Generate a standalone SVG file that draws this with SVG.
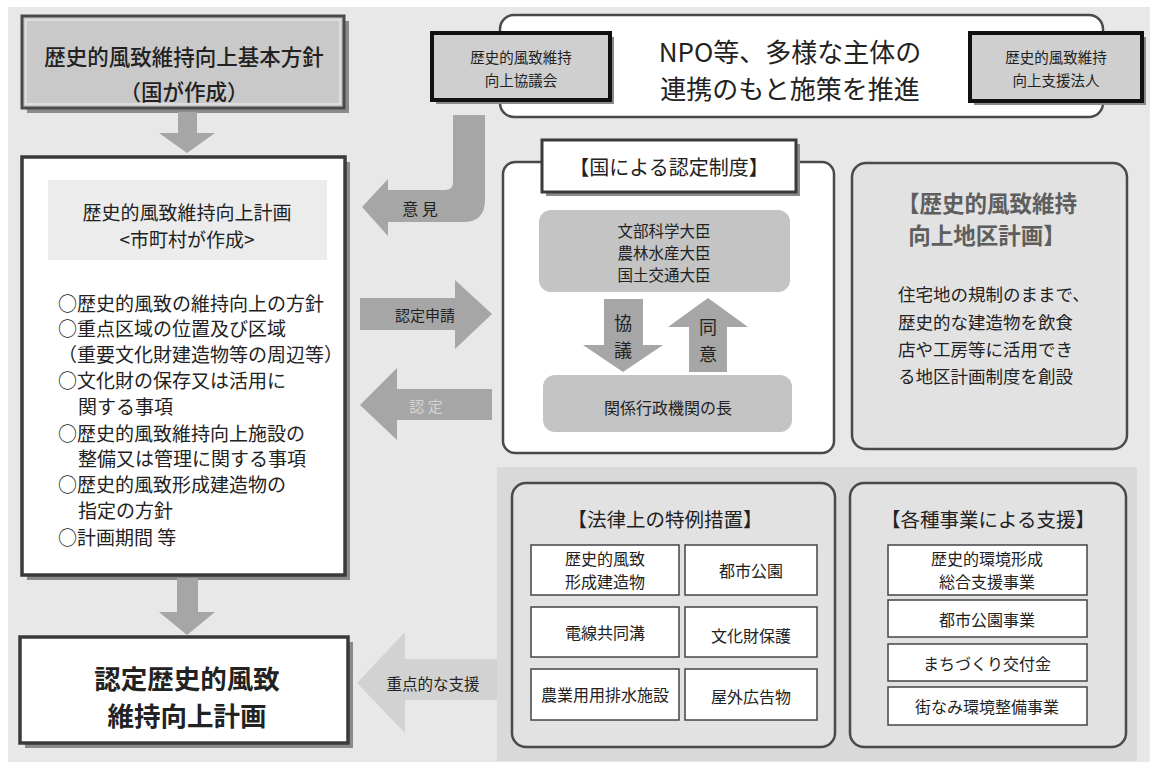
<svg xmlns="http://www.w3.org/2000/svg" width="1163" height="767" viewBox="0 0 1163 767">
<style>
text{font-family:"Noto Sans CJK JP","Noto Sans CJK SC",sans-serif;fill:#222;text-anchor:middle;dominant-baseline:central}
.arrow{fill:#a6a6a6}
.pale{fill:#d2d2d2}
.shadow{fill:#8a8a8a}
.frame{fill:#fff;stroke:#3a3a3a;stroke-width:3.5}
.gbox{fill:#c9c9c9;stroke:#4a4a4a;stroke-width:3}
.bk{fill:#cfcfcf;stroke:#111;stroke-width:4}
.round{fill:#fff;stroke:#4a4a4a;stroke-width:2.5}
.roundg{fill:#e2e2e2;stroke:#4a4a4a;stroke-width:2.5}
.inner{fill:#c4c4c4}
.cell{fill:#fff;stroke:#444;stroke-width:1.5}
.t16{font-size:16px}
.t19{font-size:19px}
.lt{text-anchor:start}
</style>
<rect x="0" y="0" width="1163" height="767" fill="#fff"/>
<rect x="8" y="7" width="1142" height="755" fill="#e8e8e8"/>
<rect x="497" y="467" width="640" height="294" fill="#d9d9d9"/>

<g id="basic-policy">
  <rect class="shadow" x="27" y="21" width="322" height="92"/>
  <rect class="gbox" x="22" y="16" width="322" height="92"/>
  <rect x="26" y="20" width="314" height="84" fill="none" stroke="#e4e4e4" stroke-width="1.5"/>
  <text x="184" y="55" style="font-size:21.5px;font-weight:500">歴史的風致維持向上基本方針</text>
  <text x="184" y="90" style="font-size:21.5px;font-weight:500">（国が作成）</text>
</g>

<g id="municipal-plan">
  <rect class="shadow" x="27" y="162" width="323" height="418"/>
  <rect class="frame" x="22" y="157" width="323" height="418"/>
  <rect x="48" y="180" width="279" height="80" fill="#ececec"/>
  <text x="187" y="211" class="t19">歴史的風致維持向上計画</text>
  <text x="187" y="238" class="t19">&lt;市町村が作成&gt;</text>
  <g class="t19">
    <text class="lt" x="58" y="302">○歴史的風致の維持向上の方針</text>
    <text class="lt" x="58" y="327">○重点区域の位置及び区域</text>
    <text class="lt" x="58" y="353">（重要文化財建造物等の周辺等）</text>
    <text class="lt" x="58" y="379">○文化財の保存又は活用に</text>
    <text class="lt" x="78" y="405">関する事項</text>
    <text class="lt" x="58" y="432">○歴史的風致維持向上施設の</text>
    <text class="lt" x="78" y="457">整備又は管理に関する事項</text>
    <text class="lt" x="58" y="483">○歴史的風致形成建造物の</text>
    <text class="lt" x="78" y="509">指定の方針</text>
    <text class="lt" x="58" y="536">○計画期間 等</text>
  </g>
</g>

<g id="certified-plan">
  <rect class="shadow" x="25" y="642" width="328" height="106"/>
  <rect class="frame" x="20" y="637" width="328" height="106"/>
  <text x="187" y="677" style="font-size:26.5px;font-weight:700">認定歴史的風致</text>
  <text x="187" y="714" style="font-size:26.5px;font-weight:700">維持向上計画</text>
</g>

<g id="npo">
  <rect x="500" y="15" width="603" height="102" rx="14" fill="#fff" stroke="#4a4a4a" stroke-width="2.5"/>
  <text x="790" y="50" style="font-size:26px">NPO等、多様な主体の</text>
  <text x="790" y="87" style="font-size:26px">連携のもと施策を推進</text>
</g>

<g id="council">
  <rect class="shadow" x="436" y="37" width="178" height="67"/>
  <rect class="bk" x="432" y="33" width="178" height="67"/>
  <text x="521" y="56" style="font-size:14.5px">歴史的風致維持</text>
  <text x="521" y="79" style="font-size:14.5px">向上協議会</text>
</g>

<g id="support-corp">
  <rect class="shadow" x="974" y="37" width="172" height="68"/>
  <rect class="bk" x="970" y="33" width="172" height="68"/>
  <text x="1056" y="56" style="font-size:14.5px">歴史的風致維持</text>
  <text x="1056" y="79" style="font-size:14.5px">向上支援法人</text>
</g>

<g id="national-cert">
  <rect class="round" x="503" y="162" width="331" height="291" rx="12"/>
  <rect class="shadow" x="546" y="144" width="254" height="52"/>
  <rect x="542" y="140" width="254" height="52" fill="#fff" stroke="#3a3a3a" stroke-width="3"/>
  <text x="669" y="166" style="font-size:20px">【国による認定制度】</text>
  <rect class="inner" x="539" y="210" width="251" height="82" rx="12"/>
  <text x="664" y="230" style="font-size:15.5px">文部科学大臣</text>
  <text x="664" y="252" style="font-size:15.5px">農林水産大臣</text>
  <text x="664" y="274" style="font-size:15.5px">国土交通大臣</text>
  <rect class="inner" x="543" y="375" width="249" height="57" rx="12"/>
  <text x="668" y="407" class="t16">関係行政機関の長</text>
</g>

<g id="district-plan">
  <rect class="roundg" x="852" y="163" width="275" height="286" rx="14"/>
  <text x="987" y="202" style="font-size:22.5px;font-weight:700;fill:#5e5e5e">【歴史的風致維持</text>
  <text x="987" y="234" style="font-size:22.5px;font-weight:700;fill:#5e5e5e">向上地区計画】</text>
  <g style="font-size:17.5px">
    <text class="lt" x="898" y="293">住宅地の規制のままで、</text>
    <text class="lt" x="898" y="321">歴史的な建造物を飲食</text>
    <text class="lt" x="898" y="348">店や工房等に活用でき</text>
    <text class="lt" x="898" y="375">る地区計画制度を創設</text>
  </g>
</g>

<g id="legal-measures">
  <rect class="roundg" x="512" y="483" width="323" height="264" rx="14"/>
  <text x="665" y="518" style="font-size:19.5px">【法律上の特例措置】</text>
  <rect class="cell" x="531" y="545" width="148" height="50"/>
  <text x="605" y="558" class="t16">歴史的風致</text>
  <text x="605" y="581" class="t16">形成建造物</text>
  <rect class="cell" x="685" y="545" width="132" height="50"/>
  <text x="751" y="570" class="t16">都市公園</text>
  <rect class="cell" x="531" y="607" width="148" height="50"/>
  <text x="605" y="632" class="t16">電線共同溝</text>
  <rect class="cell" x="685" y="607" width="132" height="50"/>
  <text x="751" y="635" class="t16">文化財保護</text>
  <rect class="cell" x="531" y="669" width="148" height="51"/>
  <text x="605" y="694" class="t16">農業用用排水施設</text>
  <rect class="cell" x="685" y="669" width="132" height="51"/>
  <text x="751" y="696" class="t16">屋外広告物</text>
</g>

<g id="project-support">
  <rect class="roundg" x="850" y="483" width="276" height="264" rx="14"/>
  <text x="988" y="518" style="font-size:19.5px">【各種事業による支援】</text>
  <rect class="cell" x="888" y="545" width="199" height="50"/>
  <text x="987" y="558" class="t16">歴史的環境形成</text>
  <text x="987" y="581" class="t16">総合支援事業</text>
  <rect class="cell" x="888" y="600" width="199" height="37"/>
  <text x="987" y="619" class="t16">都市公園事業</text>
  <rect class="cell" x="888" y="644" width="199" height="37"/>
  <text x="987" y="663" class="t16">まちづくり交付金</text>
  <rect class="cell" x="888" y="687" width="199" height="38"/>
  <text x="987" y="706" class="t16">街なみ環境整備事業</text>
</g>

<g id="connectors">
  <path class="arrow" d="M178,112 H197 V133 H215 L187,153 L159,133 H178 Z"/>
  <path class="arrow" d="M177,578 H198 V612 H215 L187,635 L159,612 H177 Z"/>
  <path class="arrow" d="M453,115 H485 V200 Q485,222 463,222 H388 V236 L362,207 L388,179 V190 H445 Q453,190 453,182 Z"/>
  <text x="420" y="208" style="font-size:16px">意 見</text>
  <path class="arrow" d="M360,298 H455 V280 L492,314 L455,349 V330 H360 Z"/>
  <text x="425" y="314" style="font-size:15px">認定申請</text>
  <path class="arrow" d="M492,389 V420 H397 V440 L360,405 L397,368 V389 Z"/>
  <text x="426" y="405" style="font-size:15px;fill:#d4d4d4">認 定</text>
  <path class="pale" d="M497,659 V700 H405 V733 L357,683 L405,632 V659 Z"/>
  <text x="433" y="683" style="font-size:15.5px">重点的な支援</text>
  <path class="arrow" d="M604,299 H643 V345 H663 L623,372 L583,345 H604 Z"/>
  <text x="623" y="322" style="font-size:18px">協</text>
  <text x="623" y="349" style="font-size:18px">議</text>
  <path class="arrow" d="M708,298 L748,327 H727 V372 H689 V327 H668 Z"/>
  <text x="708" y="326" style="font-size:18px">同</text>
  <text x="708" y="353" style="font-size:18px">意</text>
</g>
</svg>
